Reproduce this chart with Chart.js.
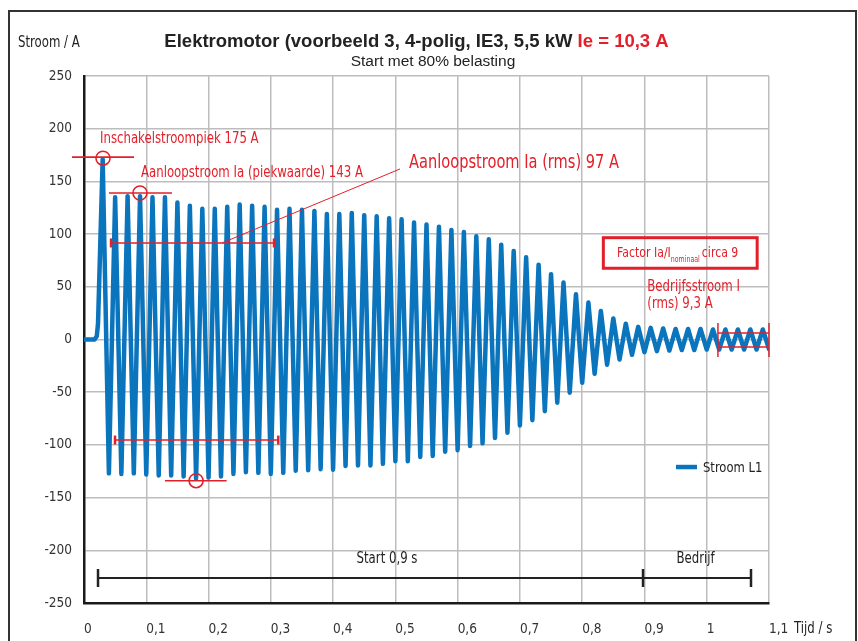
<!DOCTYPE html>
<html>
<head>
<meta charset="utf-8">
<script src="https://cdn.jsdelivr.net/npm/chart.js@4.4.1/dist/chart.umd.min.js"></script>
<style>
	html, body { margin: 0; padding: 0; background: #fff; }
</style>
</head>
<body>
<canvas id="motorChart" width="858" height="641"></canvas>
<script>
// ================================ [ Data ] ================================

// x axis tick values and labels (Tijd / s)
const xTickValues = [0, 0.1, 0.2, 0.3, 0.4, 0.5, 0.6, 0.7, 0.8, 0.9, 1, 1.1];
const xTickLabels = ["0", "0,1", "0,2", "0,3", "0,4", "0,5", "0,6", "0,7", "0,8", "0,9", "1", "1,1"];

// flat part before switching on
const preStartTimes = [0, 0.017, 0.0205, 0.0225];
const preStartValues = [0, 0, 3, 15];

// current peaks, one every half cycle (50 Hz)
const firstPeakTime = 0.03;
const halfCycle = 0.01;
const peakMax = [171, 135, 136, 136, 135, 135, 130, 127, 124, 124,
	126, 128, 127, 126, 123, 124, 123, 122, 119, 119,
	120, 118, 117, 115, 114, 111, 109, 107, 104, 102,
	98, 95, 90, 84, 78, 71, 62, 54, 43, 35,
	27, 20, 15, 12, 11, 10.5, 10, 10, 10, 9.5,
	9.5, 9.5, 9.5, 9.5];
const peakMin = [-127, -127.5, -127, -128, -129, -129, -130, -132, -131, -130,
	-127.5, -126, -126.5, -127.5, -126.5, -124.5, -124, -123, -123.5, -120,
	-119.5, -119.5, -118, -115.5, -115.5, -111.5, -110.5, -106.5, -105, -101,
	-98.5, -93.5, -88.5, -81.5, -76.5, -68, -60, -50.5, -41, -32.5,
	-24, -19, -14.5, -12, -11, -10.5, -10, -10, -9.5, -9.5,
	-9.5, -9.5, -9.5, -9];

const RED = "#e3202a";
const BLUE = "#0a74bd";
const NARROW = "'Liberation Sans Narrow', 'DejaVu Sans Condensed', 'Roboto', sans-serif";
const SANS = "'Liberation Sans', Arial, sans-serif";

// build point list for the library
const currentPoints = [];
preStartTimes.forEach((t, i) => currentPoints.push({ x: t, y: preStartValues[i] }));
peakMax.forEach((v, i) => {
	currentPoints.push({ x: firstPeakTime + 2 * i * halfCycle, y: v });
	if (i < peakMin.length) currentPoints.push({ x: firstPeakTime + (2 * i + 1) * halfCycle, y: peakMin[i] });
});

// ================================ [ Annotations ] ================================
const annotationPlugin = {
	id: "motorAnnotations",
	afterDraw(chart) {
		const ctx = chart.ctx;
		const xs = chart.scales.x;
		const ys = chart.scales.y;
		const px = (t) => xs.getPixelForValue(t);
		const py = (v) => ys.getPixelForValue(v);

		const line = (x1, y1, x2, y2, color, w) => {
			ctx.beginPath();
			ctx.strokeStyle = color;
			ctx.lineWidth = w;
			ctx.moveTo(x1, y1);
			ctx.lineTo(x2, y2);
			ctx.stroke();
		};
		// text, squeezed horizontally by sx (condensed look); returns drawn width
		const text = (str, x, y, font, color, align, sx) => {
			sx = sx || 1;
			ctx.save();
			ctx.font = font;
			ctx.fillStyle = color;
			ctx.textAlign = align || "left";
			ctx.textBaseline = "alphabetic";
			ctx.translate(x, y);
			ctx.scale(sx, 1);
			ctx.fillText(str, 0, 0);
			const w = ctx.measureText(str).width * sx;
			ctx.restore();
			return w;
		};
		const circle = (x, y, r) => {
			ctx.beginPath();
			ctx.strokeStyle = RED;
			ctx.lineWidth = 1.6;
			ctx.arc(x, y, r, 0, Math.PI * 2);
			ctx.stroke();
		};
		// horizontal bar with end caps
		const capBar = (t1, t2, v, color, w, cap) => {
			line(px(t1), py(v), px(t2), py(v), color, w);
			line(px(t1), py(v) - cap, px(t1), py(v) + cap, color, w + 1);
			line(px(t2), py(v) - cap, px(t2), py(v) + cap, color, w + 1);
		};
		const SQ = 0.87;

		ctx.save();

		// outer frame
		ctx.strokeStyle = "#333";
		ctx.lineWidth = 2;
		ctx.strokeRect(9, 11, 847, 640);

		// title
		ctx.font = "bold 18.5px " + SANS;
		const t1 = "Elektromotor (voorbeeld 3, 4-polig, IE3, 5,5 kW ";
		const t2 = "Ie = 10,3 A";
		const w1 = ctx.measureText(t1).width;
		const w2 = ctx.measureText(t2).width;
		const tx = 416.5 - (w1 + w2) / 2;
		text(t1, tx, 47, "bold 18.5px " + SANS, "#222");
		text(t2, tx + w1, 47, "bold 18.5px " + SANS, RED);
		text("Start met 80% belasting", 433, 66, "15.5px " + SANS, "#222", "center");

		// axis titles
		text("Stroom / A", 18, 47, "15px " + NARROW, "#222", "left", SQ);
		text("Tijd / s", 794, 633, "15px " + NARROW, "#222", "left", SQ);

		// inrush peak
		line(px(-0.0193), py(173), px(0.0803), py(173), RED, 1.6);
		circle(px(0.0305), py(172), 7);
		text("Inschakelstroompiek 175 A", px(0.0257), py(186.4), "15px " + NARROW, RED, "left", SQ);

		// starting current peak
		line(px(0.04), py(139), px(0.1413), py(139), RED, 1.6);
		circle(px(0.0899), py(139), 7);
		line(px(0.130), py(-134), px(0.229), py(-134), RED, 1.6);
		circle(px(0.180), py(-134), 7);
		text("Aanloopstroom Ia (piekwaarde) 143 A", px(0.0915), py(154.2), "15px " + NARROW, RED, "left", SQ);

		// starting current rms
		capBar(0.0434, 0.3051, 91.6, RED, 1.5, 4.5);
		capBar(0.0498, 0.312, -95.4, RED, 1.5, 4.5);
		line(px(0.2216), py(91.6), px(0.5075), py(161.8), RED, 1);
		text("Aanloopstroom Ia (rms) 97 A", px(0.522), py(162.7), "19px " + NARROW, RED, "left", 0.855);

		// factor box
		ctx.strokeStyle = RED;
		ctx.lineWidth = 3;
		ctx.strokeRect(px(0.834), py(96.6), px(1.081) - px(0.834), py(67.6) - py(96.6));
		let fx = px(0.856);
		const fy = py(78.6);
		fx += text("Factor Ia/I", fx, fy, "14px " + NARROW, RED, "left", SQ);
		fx += text("nominaal", fx, fy + 5, "8px " + NARROW, RED, "left", SQ) + 2;
		text("circa 9", fx, fy, "14px " + NARROW, RED, "left", SQ);

		// operating current
		text("Bedrijfsstroom I", px(0.9046), py(46.3), "15px " + NARROW, RED, "left", SQ);
		text("(rms) 9,3 A", px(0.9046), py(29.6), "15px " + NARROW, RED, "left", SQ);
		line(px(1.018), py(15.7), px(1.018), py(-16.6), RED, 1.5);
		line(px(1.1), py(15.7), px(1.1), py(-16.6), RED, 1.5);
		line(px(1.018), py(6.2), px(1.1), py(6.2), RED, 1.5);
		line(px(1.018), py(-7.1), px(1.1), py(-7.1), RED, 1.5);

		// start / operation bracket
		line(px(0.0225), py(-226.3), px(1.0711), py(-226.3), "#222", 2);
		[0.0225, 0.8977, 1.0711].forEach((t) => line(px(t), py(-226.3) - 9, px(t), py(-226.3) + 9, "#222", 2.5));
		text("Start 0,9 s", px(0.4866), py(-212.3), "15px " + NARROW, "#222", "center", SQ);
		text("Bedrijf", px(0.982), py(-212.3), "15px " + NARROW, "#222", "center", SQ);

		// legend
		const ds = chart.data.datasets[0];
		line(px(0.9507), py(-121), px(0.9844), py(-121), BLUE, 4.5);
		text(ds.label, px(0.994), py(-121) + 5, "14px " + NARROW, "#222", "left", 0.92);

		ctx.restore();
	}
};

// ================================ [ Chart ] ================================
const motorChart = document.getElementById("motorChart");
new Chart(motorChart, {
	type: "line",
	data: {
		datasets: [{
			label: "Stroom L1",
			data: currentPoints,
			borderColor: BLUE,
			borderWidth: 4.5,
			borderJoinStyle: "round",
			borderCapStyle: "round",
			pointRadius: 0,
			tension: 0,
			fill: false
		}]
	},
	options: {
		responsive: false,
		animation: false,
		layout: { padding: { left: 9, right: 89, top: 76, bottom: 0 } },
		plugins: {
			legend: { display: false },
			tooltip: { enabled: false },
			title: { display: false }
		},
		scales: {
			x: {
				type: "linear",
				min: 0,
				max: 1.1,
				afterBuildTicks: (scale) => { scale.ticks = xTickValues.map((v) => ({ value: v })); },
				afterFit: (scale) => { scale.height = 38; },
				grid: { color: "#bdbdbd", lineWidth: 1.5, drawTicks: false },
				border: { color: "#1a1a1a", width: 2.5 },
				ticks: {
					align: "start",
					padding: 18,
					color: "#333",
					font: { family: NARROW, size: 13.5 },
					callback: (value, index) => xTickLabels[index]
				}
			},
			y: {
				min: -250,
				max: 250,
				afterFit: (scale) => { scale.width = 75; },
				grid: { color: "#bdbdbd", lineWidth: 1.5, drawTicks: false },
				border: { color: "#1a1a1a", width: 2.5 },
				ticks: {
					stepSize: 50,
					padding: 12,
					color: "#333",
					font: { family: NARROW, size: 13.5 }
				}
			}
		}
	},
	plugins: [annotationPlugin]
});
</script>
</body>
</html>
